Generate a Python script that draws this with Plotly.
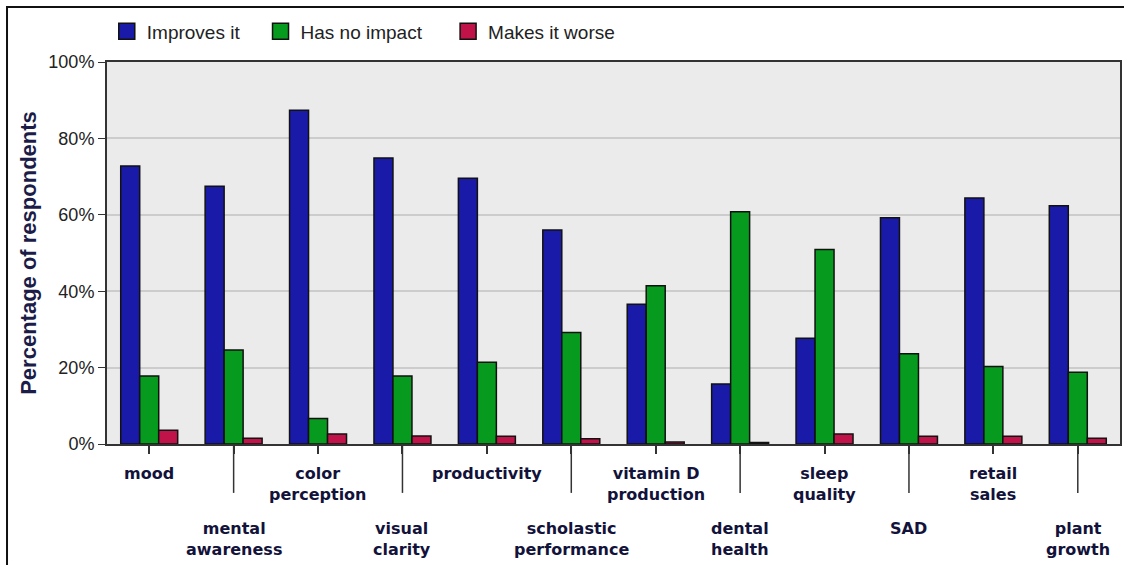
import plotly.graph_objects as go

categories = ["mood", "mental<br>awareness", "color<br>perception", "visual<br>clarity",
              "productivity", "scholastic<br>performance", "vitamin D<br>production",
              "dental<br>health", "sleep<br>quality", "SAD", "retail<br>sales", "plant<br>growth"]
improves = [72.8, 67.5, 87.4, 74.9, 69.6, 56.0, 36.6, 15.7, 27.7, 59.2, 64.4, 62.4]
no_impact = [17.8, 24.6, 6.7, 17.8, 21.4, 29.2, 41.4, 60.8, 50.9, 23.6, 20.3, 18.8]
worse = [3.6, 1.5, 2.6, 2.1, 2.0, 1.4, 0.5, 0.4, 2.6, 2.0, 2.0, 1.5]
series_names = ["Improves it", "Has no impact", "Makes it worse"]
colors = ["#1a1aa8", "#069b1e", "#c0134a"]
y_ticks = [0, 20, 40, 60, 80, 100]

# category keys for the axis (labels are drawn as annotations in two rows)
keys = [c.replace("<br>", " ") for c in categories]
# a little extra room after each legend entry
legend_pad = ["\u00a0\u00a0\u00a0", "\u00a0\u00a0\u00a0\u00a0", ""]

fig = go.Figure()
for name, vals, col, pad in zip(series_names, [improves, no_impact, worse], colors, legend_pad):
    fig.add_trace(go.Bar(x=keys, y=vals, name=name, marker_color=col,
                         marker_line=dict(color="#111111", width=1.5),
                         showlegend=False))
    # bigger legend swatch
    fig.add_trace(go.Scatter(x=[None], y=[None], mode="markers", name=name + pad,
                             marker=dict(symbol="square", size=20, color=col,
                                         line=dict(color="#111111", width=1.5))))

fig.update_layout(
    width=1124, height=565,
    margin=dict(l=107, r=4, t=62, b=121, autoexpand=False),
    paper_bgcolor="white",
    plot_bgcolor="#ebebeb",
    barmode="group",
    bargap=0.325,
    bargroupgap=0,
    font=dict(family="Liberation Sans", color="#222222"),
    legend=dict(orientation="h", xref="container", x=0.095, xanchor="left",
                yref="container", y=0.978, yanchor="top",
                font=dict(family="Liberation Sans", size=19, color="#222222"),
                itemsizing="trace", bgcolor="rgba(0,0,0,0)"),
)

fig.update_yaxes(range=[0, 100], tickvals=y_ticks, ticktext=[f"{v}%" for v in y_ticks],
                 tickfont=dict(family="Liberation Sans", size=18, color="#222222"),
                 showgrid=True, gridcolor="#cccccc", gridwidth=2,
                 showline=True, linecolor="#333333", linewidth=2, mirror=True,
                 ticks="outside", ticklen=7, tickcolor="#333333",
                 zeroline=False, automargin=False,
                 title=dict(text="<b>Percentage of respondents</b>",
                            font=dict(size=22, color="#1c1c48"), standoff=6))
fig.update_xaxes(showticklabels=False, ticks="outside", ticklen=8, tickcolor="#333333",
                 tickwidth=1.5, showline=True, linecolor="#333333", linewidth=2,
                 mirror=True, automargin=False)

# labels in two staggered rows, long ticks for the lower row
for i, (k, lab) in enumerate(zip(keys, categories)):
    lower = i % 2 == 1
    fig.add_annotation(x=k, xref="x", y=-0.19 if lower else -0.046, yref="paper",
                       yanchor="top", text="<b>" + lab + "</b>", showarrow=False,
                       font=dict(family="DejaVu Sans", size=16, color="#12123a"))
    if lower:
        fig.add_shape(type="line", xref="x", x0=k, x1=k, yref="paper", y0=0, y1=-0.128,
                      line=dict(color="#333333", width=1.5))

# outer frame
fig.add_shape(type="rect", xref="paper", yref="paper", x0=-0.0987, x1=1.2,
              y0=-0.5, y1=1.144, line=dict(color="#111111", width=2), layer="below")

fig.write_html("out.html", config={"displayModeBar": False},
               post_script="document.body.style.margin='0';")
